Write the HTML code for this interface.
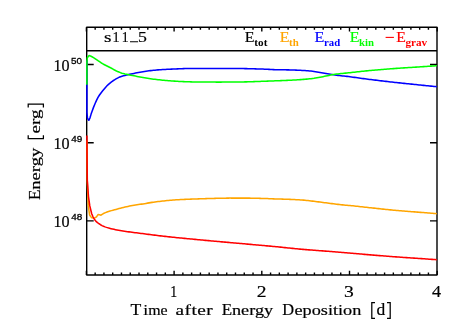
<!DOCTYPE html>
<html><head><meta charset="utf-8"><title>plot</title>
<style>html,body{margin:0;padding:0;background:#fff;}body{width:463px;height:331px;overflow:hidden;font-family:"Liberation Serif",serif;}svg{display:block;will-change:transform;}</style>
</head><body>
<svg width="463" height="331" viewBox="0 0 463 331">
<rect width="463" height="331" fill="#fff"/>
<g fill="none" stroke="#000" stroke-width="1.40" stroke-linecap="butt">
<rect x="86.7" y="27.3" width="350.3" height="247.7" stroke-linejoin="round"/>
<path d="M86.40 275.0v-4.20M86.40 27.3v4.20M95.17 275.0v-2.45M95.17 27.3v2.45M103.94 275.0v-2.45M103.94 27.3v2.45M112.71 275.0v-2.45M112.71 27.3v2.45M121.48 275.0v-2.45M121.48 27.3v2.45M130.25 275.0v-2.45M130.25 27.3v2.45M139.02 275.0v-2.45M139.02 27.3v2.45M147.79 275.0v-2.45M147.79 27.3v2.45M156.56 275.0v-2.45M156.56 27.3v2.45M165.33 275.0v-2.45M165.33 27.3v2.45M174.10 275.0v-4.20M174.10 27.3v4.20M182.87 275.0v-2.45M182.87 27.3v2.45M191.64 275.0v-2.45M191.64 27.3v2.45M200.41 275.0v-2.45M200.41 27.3v2.45M209.18 275.0v-2.45M209.18 27.3v2.45M217.95 275.0v-2.45M217.95 27.3v2.45M226.72 275.0v-2.45M226.72 27.3v2.45M235.49 275.0v-2.45M235.49 27.3v2.45M244.26 275.0v-2.45M244.26 27.3v2.45M253.03 275.0v-2.45M253.03 27.3v2.45M261.80 275.0v-4.20M261.80 27.3v4.20M270.57 275.0v-2.45M270.57 27.3v2.45M279.34 275.0v-2.45M279.34 27.3v2.45M288.11 275.0v-2.45M288.11 27.3v2.45M296.88 275.0v-2.45M296.88 27.3v2.45M305.65 275.0v-2.45M305.65 27.3v2.45M314.42 275.0v-2.45M314.42 27.3v2.45M323.19 275.0v-2.45M323.19 27.3v2.45M331.96 275.0v-2.45M331.96 27.3v2.45M340.73 275.0v-2.45M340.73 27.3v2.45M349.50 275.0v-4.20M349.50 27.3v4.20M358.27 275.0v-2.45M358.27 27.3v2.45M367.04 275.0v-2.45M367.04 27.3v2.45M375.81 275.0v-2.45M375.81 27.3v2.45M384.58 275.0v-2.45M384.58 27.3v2.45M393.35 275.0v-2.45M393.35 27.3v2.45M402.12 275.0v-2.45M402.12 27.3v2.45M410.89 275.0v-2.45M410.89 27.3v2.45M419.66 275.0v-2.45M419.66 27.3v2.45M428.43 275.0v-2.45M428.43 27.3v2.45M437.20 275.0v-4.20M437.20 27.3v4.20M86.7 64.50h7.0M437.0 64.50h-7.0M86.7 142.70h7.0M437.0 142.70h-7.0M86.7 220.90h7.0M437.0 220.90h-7.0"/>
</g>
<g fill="none" stroke-width="1.55" stroke-linejoin="round" stroke-linecap="butt">
<path d="M86.7 50.78H437.0" stroke="#000"/>
<path d="M86.9 140.30 L87.2 180.30 L88.3 205.90 L89.6 215.00 L91.5 217.60 L92.0 217.82 L93.5 218.10 L95.0 217.79 L96.5 216.94 L98.0 214.62 L99.5 214.71 L101.0 215.17 L102.5 214.08 L104.0 213.31 L105.5 212.65 L107.0 212.06 L108.5 211.53 L110.0 211.05 L111.5 210.62 L113.0 210.21 L114.5 209.80 L116.0 209.39 L117.5 209.00 L119.0 208.61 L120.5 208.23 L122.0 207.85 L123.5 207.46 L125.0 207.09 L126.5 206.73 L128.0 206.39 L129.5 206.07 L131.0 205.76 L132.5 205.47 L134.0 205.20 L135.5 204.96 L137.0 204.75 L138.5 204.55 L140.0 204.35 L141.5 204.13 L143.0 203.90 L144.5 203.65 L146.0 203.39 L147.5 203.13 L149.0 202.87 L150.5 202.63 L152.0 202.39 L153.5 202.18 L155.0 201.98 L156.5 201.78 L158.0 201.59 L159.5 201.41 L161.0 201.23 L162.5 201.06 L164.0 200.90 L165.5 200.75 L167.0 200.60 L168.5 200.46 L170.0 200.33 L171.5 200.19 L173.0 200.07 L174.5 199.95 L176.0 199.84 L177.5 199.74 L179.0 199.65 L180.5 199.57 L182.0 199.50 L183.5 199.43 L185.0 199.37 L186.5 199.31 L188.0 199.25 L189.5 199.19 L191.0 199.14 L192.5 199.08 L194.0 199.02 L195.5 198.97 L197.0 198.92 L198.5 198.86 L200.0 198.81 L201.5 198.76 L203.0 198.71 L204.5 198.67 L206.0 198.62 L207.5 198.57 L209.0 198.53 L210.5 198.49 L212.0 198.44 L213.5 198.40 L215.0 198.37 L216.5 198.33 L218.0 198.30 L219.5 198.27 L221.0 198.24 L222.5 198.21 L224.0 198.18 L225.5 198.15 L227.0 198.13 L228.5 198.11 L230.0 198.10 L231.5 198.10 L233.0 198.10 L234.5 198.10 L236.0 198.10 L237.5 198.10 L239.0 198.10 L240.5 198.10 L242.0 198.10 L243.5 198.10 L245.0 198.10 L246.5 198.11 L248.0 198.12 L249.5 198.14 L251.0 198.17 L252.5 198.19 L254.0 198.23 L255.5 198.26 L257.0 198.30 L258.5 198.33 L260.0 198.37 L261.5 198.41 L263.0 198.45 L264.5 198.49 L266.0 198.54 L267.5 198.60 L269.0 198.66 L270.5 198.73 L272.0 198.79 L273.5 198.86 L275.0 198.91 L276.5 198.97 L278.0 199.01 L279.5 199.06 L281.0 199.10 L282.5 199.14 L284.0 199.19 L285.5 199.23 L287.0 199.28 L288.5 199.33 L290.0 199.39 L291.5 199.45 L293.0 199.51 L294.5 199.58 L296.0 199.65 L297.5 199.73 L299.0 199.81 L300.5 199.90 L302.0 200.00 L303.5 200.12 L305.0 200.26 L306.5 200.42 L308.0 200.59 L309.5 200.77 L311.0 200.95 L312.5 201.12 L314.0 201.30 L315.5 201.48 L317.0 201.67 L318.5 201.87 L320.0 202.06 L321.5 202.26 L323.0 202.46 L324.5 202.65 L326.0 202.85 L327.5 203.04 L329.0 203.23 L330.5 203.42 L332.0 203.61 L333.5 203.80 L335.0 203.99 L336.5 204.18 L338.0 204.36 L339.5 204.53 L341.0 204.70 L342.5 204.86 L344.0 205.01 L345.5 205.15 L347.0 205.29 L348.5 205.43 L350.0 205.56 L351.5 205.70 L353.0 205.85 L354.5 206.00 L356.0 206.16 L357.5 206.32 L359.0 206.48 L360.5 206.65 L362.0 206.82 L363.5 206.99 L365.0 207.16 L366.5 207.32 L368.0 207.49 L369.5 207.65 L371.0 207.81 L372.5 207.97 L374.0 208.14 L375.5 208.30 L377.0 208.46 L378.5 208.62 L380.0 208.79 L381.5 208.95 L383.0 209.11 L384.5 209.26 L386.0 209.42 L387.5 209.57 L389.0 209.73 L390.5 209.87 L392.0 210.02 L393.5 210.16 L395.0 210.30 L396.5 210.43 L398.0 210.57 L399.5 210.69 L401.0 210.82 L402.5 210.94 L404.0 211.06 L405.5 211.18 L407.0 211.30 L408.5 211.42 L410.0 211.54 L411.5 211.65 L413.0 211.77 L414.5 211.88 L416.0 212.00 L417.5 212.12 L419.0 212.24 L420.5 212.36 L422.0 212.48 L423.5 212.60 L425.0 212.73 L426.5 212.85 L428.0 212.97 L429.5 213.10 L431.0 213.22 L432.5 213.34 L434.0 213.47 L435.5 213.59 L436.8 213.70" stroke="#ffa500"/>
<path d="M86.9 60.30 L86.9 112.30 L87.5 118.30 L88.8 120.30 L90.0 117.80 L91.1 114.10 L92.0 111.46 L93.5 107.37 L95.0 103.70 L96.5 100.40 L98.0 97.44 L99.5 94.98 L101.0 92.93 L102.5 91.07 L104.0 89.23 L105.5 87.43 L107.0 85.78 L108.5 84.34 L110.0 83.05 L111.5 81.86 L113.0 80.77 L114.5 79.80 L116.0 78.90 L117.5 78.07 L119.0 77.32 L120.5 76.68 L122.0 76.18 L123.5 75.75 L125.0 75.38 L126.5 75.03 L128.0 74.68 L129.5 74.34 L131.0 74.02 L132.5 73.70 L134.0 73.40 L135.5 73.11 L137.0 72.83 L138.5 72.56 L140.0 72.30 L141.5 72.04 L143.0 71.77 L144.5 71.49 L146.0 71.22 L147.5 70.99 L149.0 70.79 L150.5 70.61 L152.0 70.45 L153.5 70.29 L155.0 70.15 L156.5 70.01 L158.0 69.89 L159.5 69.77 L161.0 69.67 L162.5 69.57 L164.0 69.48 L165.5 69.41 L167.0 69.34 L168.5 69.27 L170.0 69.20 L171.5 69.13 L173.0 69.06 L174.5 68.99 L176.0 68.92 L177.5 68.86 L179.0 68.80 L180.5 68.74 L182.0 68.68 L183.5 68.62 L185.0 68.56 L186.5 68.50 L188.0 68.46 L189.5 68.42 L191.0 68.40 L192.5 68.40 L194.0 68.40 L195.5 68.40 L197.0 68.40 L198.5 68.40 L200.0 68.40 L201.5 68.40 L203.0 68.40 L204.5 68.40 L206.0 68.40 L207.5 68.40 L209.0 68.40 L210.5 68.40 L212.0 68.40 L213.5 68.40 L215.0 68.40 L216.5 68.40 L218.0 68.40 L219.5 68.40 L221.0 68.40 L222.5 68.41 L224.0 68.41 L225.5 68.42 L227.0 68.43 L228.5 68.44 L230.0 68.45 L231.5 68.46 L233.0 68.48 L234.5 68.49 L236.0 68.51 L237.5 68.52 L239.0 68.54 L240.5 68.56 L242.0 68.58 L243.5 68.59 L245.0 68.61 L246.5 68.64 L248.0 68.67 L249.5 68.70 L251.0 68.73 L252.5 68.77 L254.0 68.81 L255.5 68.86 L257.0 68.90 L258.5 68.95 L260.0 69.00 L261.5 69.05 L263.0 69.10 L264.5 69.16 L266.0 69.23 L267.5 69.31 L269.0 69.39 L270.5 69.47 L272.0 69.55 L273.5 69.62 L275.0 69.67 L276.5 69.71 L278.0 69.74 L279.5 69.76 L281.0 69.78 L282.5 69.80 L284.0 69.82 L285.5 69.84 L287.0 69.86 L288.5 69.89 L290.0 69.92 L291.5 69.96 L293.0 70.01 L294.5 70.06 L296.0 70.12 L297.5 70.18 L299.0 70.25 L300.5 70.32 L302.0 70.40 L303.5 70.48 L305.0 70.58 L306.5 70.68 L308.0 70.80 L309.5 70.92 L311.0 71.07 L312.5 71.22 L314.0 71.42 L315.5 71.66 L317.0 71.93 L318.5 72.22 L320.0 72.51 L321.5 72.79 L323.0 73.05 L324.5 73.30 L326.0 73.56 L327.5 73.82 L329.0 74.07 L330.5 74.32 L332.0 74.56 L333.5 74.79 L335.0 75.00 L336.5 75.21 L338.0 75.39 L339.5 75.57 L341.0 75.73 L342.5 75.90 L344.0 76.06 L345.5 76.22 L347.0 76.39 L348.5 76.58 L350.0 76.77 L351.5 76.97 L353.0 77.17 L354.5 77.38 L356.0 77.59 L357.5 77.80 L359.0 78.00 L360.5 78.20 L362.0 78.41 L363.5 78.61 L365.0 78.81 L366.5 79.01 L368.0 79.21 L369.5 79.40 L371.0 79.59 L372.5 79.77 L374.0 79.96 L375.5 80.14 L377.0 80.33 L378.5 80.51 L380.0 80.68 L381.5 80.86 L383.0 81.04 L384.5 81.21 L386.0 81.39 L387.5 81.56 L389.0 81.73 L390.5 81.90 L392.0 82.07 L393.5 82.23 L395.0 82.40 L396.5 82.56 L398.0 82.73 L399.5 82.89 L401.0 83.05 L402.5 83.21 L404.0 83.36 L405.5 83.52 L407.0 83.67 L408.5 83.83 L410.0 83.98 L411.5 84.13 L413.0 84.29 L414.5 84.44 L416.0 84.59 L417.5 84.74 L419.0 84.90 L420.5 85.05 L422.0 85.20 L423.5 85.36 L425.0 85.51 L426.5 85.66 L428.0 85.81 L429.5 85.96 L431.0 86.12 L432.5 86.27 L434.0 86.42 L435.5 86.57 L436.8 86.70" stroke="#0000ff"/>
<path d="M86.9 84.80 L86.9 62.30 L87.3 57.80 L89.1 55.60 L91.0 56.20 L92.0 56.75 L93.5 57.62 L95.0 58.56 L96.5 59.61 L98.0 60.70 L99.5 61.73 L101.0 62.72 L102.5 63.64 L104.0 64.47 L105.5 65.27 L107.0 66.05 L108.5 66.80 L110.0 67.52 L111.5 68.24 L113.0 69.08 L114.5 70.00 L116.0 70.76 L117.5 71.44 L119.0 72.08 L120.5 72.65 L122.0 73.15 L123.5 73.57 L125.0 73.94 L126.5 74.26 L128.0 74.59 L129.5 74.90 L131.0 75.21 L132.5 75.50 L134.0 75.80 L135.5 76.10 L137.0 76.40 L138.5 76.69 L140.0 76.98 L141.5 77.26 L143.0 77.54 L144.5 77.82 L146.0 78.10 L147.5 78.35 L149.0 78.57 L150.5 78.78 L152.0 78.98 L153.5 79.17 L155.0 79.35 L156.5 79.52 L158.0 79.69 L159.5 79.85 L161.0 80.00 L162.5 80.15 L164.0 80.29 L165.5 80.43 L167.0 80.56 L168.5 80.68 L170.0 80.80 L171.5 80.91 L173.0 81.02 L174.5 81.13 L176.0 81.23 L177.5 81.32 L179.0 81.40 L180.5 81.47 L182.0 81.55 L183.5 81.62 L185.0 81.69 L186.5 81.75 L188.0 81.80 L189.5 81.85 L191.0 81.88 L192.5 81.91 L194.0 81.93 L195.5 81.95 L197.0 81.96 L198.5 81.98 L200.0 82.00 L201.5 82.01 L203.0 82.03 L204.5 82.04 L206.0 82.05 L207.5 82.06 L209.0 82.07 L210.5 82.08 L212.0 82.09 L213.5 82.09 L215.0 82.10 L216.5 82.10 L218.0 82.10 L219.5 82.10 L221.0 82.10 L222.5 82.09 L224.0 82.09 L225.5 82.08 L227.0 82.07 L228.5 82.06 L230.0 82.05 L231.5 82.04 L233.0 82.02 L234.5 82.01 L236.0 81.99 L237.5 81.98 L239.0 81.96 L240.5 81.94 L242.0 81.93 L243.5 81.91 L245.0 81.89 L246.5 81.86 L248.0 81.82 L249.5 81.78 L251.0 81.74 L252.5 81.69 L254.0 81.63 L255.5 81.58 L257.0 81.52 L258.5 81.47 L260.0 81.41 L261.5 81.35 L263.0 81.30 L264.5 81.25 L266.0 81.19 L267.5 81.13 L269.0 81.08 L270.5 81.02 L272.0 80.96 L273.5 80.90 L275.0 80.84 L276.5 80.78 L278.0 80.73 L279.5 80.67 L281.0 80.62 L282.5 80.56 L284.0 80.51 L285.5 80.45 L287.0 80.39 L288.5 80.32 L290.0 80.25 L291.5 80.17 L293.0 80.09 L294.5 80.01 L296.0 79.92 L297.5 79.82 L299.0 79.72 L300.5 79.61 L302.0 79.50 L303.5 79.38 L305.0 79.26 L306.5 79.12 L308.0 78.98 L309.5 78.82 L311.0 78.66 L312.5 78.47 L314.0 78.27 L315.5 78.03 L317.0 77.77 L318.5 77.49 L320.0 77.21 L321.5 76.92 L323.0 76.64 L324.5 76.36 L326.0 76.05 L327.5 75.74 L329.0 75.42 L330.5 75.11 L332.0 74.82 L333.5 74.54 L335.0 74.30 L336.5 74.09 L338.0 73.91 L339.5 73.73 L341.0 73.58 L342.5 73.42 L344.0 73.28 L345.5 73.13 L347.0 72.98 L348.5 72.82 L350.0 72.66 L351.5 72.49 L353.0 72.32 L354.5 72.15 L356.0 71.98 L357.5 71.81 L359.0 71.65 L360.5 71.49 L362.0 71.34 L363.5 71.18 L365.0 71.03 L366.5 70.88 L368.0 70.74 L369.5 70.60 L371.0 70.46 L372.5 70.33 L374.0 70.20 L375.5 70.06 L377.0 69.93 L378.5 69.80 L380.0 69.68 L381.5 69.55 L383.0 69.43 L384.5 69.31 L386.0 69.19 L387.5 69.07 L389.0 68.95 L390.5 68.84 L392.0 68.72 L393.5 68.61 L395.0 68.50 L396.5 68.39 L398.0 68.29 L399.5 68.18 L401.0 68.08 L402.5 67.98 L404.0 67.89 L405.5 67.79 L407.0 67.70 L408.5 67.60 L410.0 67.51 L411.5 67.41 L413.0 67.32 L414.5 67.22 L416.0 67.13 L417.5 67.03 L419.0 66.93 L420.5 66.83 L422.0 66.73 L423.5 66.63 L425.0 66.53 L426.5 66.42 L428.0 66.32 L429.5 66.22 L431.0 66.11 L432.5 66.00 L434.0 65.90 L435.5 65.79 L436.8 65.70" stroke="#00ff00"/>
<path d="M86.9 135.60 L87.3 180.30 L88.5 196.80 L89.8 205.90 L91.7 213.70 L93.0 216.75 L94.5 219.50 L96.0 221.30 L97.5 222.60 L99.0 223.75 L100.5 224.72 L102.0 225.60 L103.5 226.30 L105.0 226.88 L106.5 227.38 L108.0 227.83 L109.5 228.24 L111.0 228.63 L112.5 229.00 L114.0 229.34 L115.5 229.66 L117.0 229.96 L118.5 230.24 L120.0 230.51 L121.5 230.76 L123.0 230.99 L124.5 231.23 L126.0 231.45 L127.5 231.67 L129.0 231.87 L130.5 232.08 L132.0 232.28 L133.5 232.48 L135.0 232.67 L136.5 232.85 L138.0 233.04 L139.5 233.23 L141.0 233.41 L142.5 233.60 L144.0 233.79 L145.5 233.98 L147.0 234.17 L148.5 234.36 L150.0 234.55 L151.5 234.74 L153.0 234.92 L154.5 235.11 L156.0 235.30 L157.5 235.49 L159.0 235.67 L160.5 235.86 L162.0 236.04 L163.5 236.22 L165.0 236.39 L166.5 236.56 L168.0 236.72 L169.5 236.88 L171.0 237.04 L172.5 237.19 L174.0 237.35 L175.5 237.50 L177.0 237.65 L178.5 237.80 L180.0 237.95 L181.5 238.09 L183.0 238.24 L184.5 238.38 L186.0 238.53 L187.5 238.67 L189.0 238.81 L190.5 238.96 L192.0 239.10 L193.5 239.24 L195.0 239.39 L196.5 239.53 L198.0 239.67 L199.5 239.81 L201.0 239.95 L202.5 240.09 L204.0 240.23 L205.5 240.36 L207.0 240.50 L208.5 240.64 L210.0 240.78 L211.5 240.91 L213.0 241.05 L214.5 241.18 L216.0 241.32 L217.5 241.45 L219.0 241.59 L220.5 241.72 L222.0 241.86 L223.5 241.99 L225.0 242.12 L226.5 242.26 L228.0 242.39 L229.5 242.52 L231.0 242.65 L232.5 242.78 L234.0 242.92 L235.5 243.05 L237.0 243.18 L238.5 243.31 L240.0 243.44 L241.5 243.58 L243.0 243.71 L244.5 243.84 L246.0 243.98 L247.5 244.11 L249.0 244.25 L250.5 244.38 L252.0 244.51 L253.5 244.65 L255.0 244.78 L256.5 244.91 L258.0 245.05 L259.5 245.18 L261.0 245.32 L262.5 245.45 L264.0 245.59 L265.5 245.72 L267.0 245.86 L268.5 246.00 L270.0 246.14 L271.5 246.28 L273.0 246.42 L274.5 246.56 L276.0 246.70 L277.5 246.84 L279.0 246.99 L280.5 247.14 L282.0 247.30 L283.5 247.45 L285.0 247.61 L286.5 247.77 L288.0 247.92 L289.5 248.08 L291.0 248.23 L292.5 248.39 L294.0 248.54 L295.5 248.69 L297.0 248.84 L298.5 248.98 L300.0 249.12 L301.5 249.26 L303.0 249.39 L304.5 249.51 L306.0 249.64 L307.5 249.76 L309.0 249.87 L310.5 249.99 L312.0 250.10 L313.5 250.22 L315.0 250.33 L316.5 250.44 L318.0 250.55 L319.5 250.66 L321.0 250.77 L322.5 250.88 L324.0 250.99 L325.5 251.11 L327.0 251.22 L328.5 251.34 L330.0 251.46 L331.5 251.58 L333.0 251.69 L334.5 251.81 L336.0 251.93 L337.5 252.05 L339.0 252.17 L340.5 252.29 L342.0 252.41 L343.5 252.53 L345.0 252.65 L346.5 252.77 L348.0 252.90 L349.5 253.02 L351.0 253.15 L352.5 253.27 L354.0 253.40 L355.5 253.53 L357.0 253.66 L358.5 253.80 L360.0 253.94 L361.5 254.08 L363.0 254.22 L364.5 254.36 L366.0 254.49 L367.5 254.63 L369.0 254.76 L370.5 254.88 L372.0 255.01 L373.5 255.13 L375.0 255.26 L376.5 255.38 L378.0 255.50 L379.5 255.62 L381.0 255.74 L382.5 255.85 L384.0 255.97 L385.5 256.09 L387.0 256.20 L388.5 256.32 L390.0 256.43 L391.5 256.54 L393.0 256.65 L394.5 256.76 L396.0 256.87 L397.5 256.98 L399.0 257.09 L400.5 257.20 L402.0 257.30 L403.5 257.40 L405.0 257.51 L406.5 257.61 L408.0 257.71 L409.5 257.82 L411.0 257.92 L412.5 258.02 L414.0 258.12 L415.5 258.22 L417.0 258.32 L418.5 258.43 L420.0 258.53 L421.5 258.63 L423.0 258.74 L424.5 258.84 L426.0 258.95 L427.5 259.05 L429.0 259.16 L430.5 259.26 L432.0 259.37 L433.5 259.47 L435.0 259.57 L436.5 259.68 L436.8 259.70" stroke="#ff0000"/>
</g>
<g font-family="'Liberation Serif', serif" fill="#000">
<text transform="translate(104.10 42.30) scale(1.2632 1)" font-size="15.2" stroke="#000" stroke-width="0.18">s</text>
<text transform="translate(112.50 42.30) scale(0.9298 1)" font-size="15.2" stroke="#000" stroke-width="0.18">1</text>
<text transform="translate(121.84 42.30) scale(0.8947 1)" font-size="15.2" stroke="#000" stroke-width="0.18">1</text>
<text transform="translate(137.97 42.30) scale(1.1696 1)" font-size="15.2" stroke="#000" stroke-width="0.18">5</text>
<text transform="translate(244.65 42.30) scale(1.0398 1)" font-size="15.3" stroke="#000" stroke-width="0.18">E</text>
<text transform="translate(254.33 45.70) scale(1.0562 1)" font-size="10.6" font-weight="bold">tot</text>
<text transform="translate(279.65 42.30) scale(1.0398 1)" font-size="15.3" fill="#ffa500" stroke="#ffa500" stroke-width="0.18">E</text>
<text transform="translate(289.03 45.70) scale(1.0261 1)" font-size="10.6" font-weight="bold" fill="#ffa500">th</text>
<text transform="translate(314.55 42.30) scale(1.0517 1)" font-size="15.3" fill="#0000ff" stroke="#0000ff" stroke-width="0.18">E</text>
<text transform="translate(324.03 45.70) scale(1.0169 1)" font-size="10.6" font-weight="bold" fill="#0000ff">rad</text>
<text transform="translate(349.75 42.30) scale(1.0398 1)" font-size="15.3" fill="#00ff00" stroke="#00ff00" stroke-width="0.18">E</text>
<text transform="translate(358.93 45.70) scale(1.0158 1)" font-size="10.6" font-weight="bold" fill="#00ff00">kin</text>
<text transform="translate(396.35 42.30) scale(1.0278 1)" font-size="15.3" fill="#ff0000" stroke="#ff0000" stroke-width="0.18">E</text>
<text transform="translate(405.53 45.70) scale(1.0519 1)" font-size="10.6" font-weight="bold" fill="#ff0000">grav</text>
<text transform="translate(53.49 70.70) scale(1.0070 1)" font-size="16.0" stroke="#000" stroke-width="0.18">10</text>
<text transform="translate(71.09 63.70) scale(1.0356 1)" font-size="9.6" font-family="'Liberation Sans', sans-serif" stroke="#000" stroke-width="0.3">50</text>
<text transform="translate(53.49 148.90) scale(1.0070 1)" font-size="16.0" stroke="#000" stroke-width="0.18">10</text>
<text transform="translate(71.24 141.90) scale(1.0356 1)" font-size="9.6" font-family="'Liberation Sans', sans-serif" stroke="#000" stroke-width="0.3">49</text>
<text transform="translate(53.49 227.10) scale(1.0070 1)" font-size="16.0" stroke="#000" stroke-width="0.18">10</text>
<text transform="translate(71.24 220.10) scale(1.0356 1)" font-size="9.6" font-family="'Liberation Sans', sans-serif" stroke="#000" stroke-width="0.3">48</text>
<text transform="translate(170.22 296.85) scale(0.8667 1)" font-size="16.0" stroke="#000" stroke-width="0.18">1</text>
<text transform="translate(256.69 296.85) scale(1.2222 1)" font-size="16.0" stroke="#000" stroke-width="0.18">2</text>
<text transform="translate(343.98 296.85) scale(1.2222 1)" font-size="16.0" stroke="#000" stroke-width="0.18">3</text>
<text transform="translate(431.92 296.85) scale(1.1333 1)" font-size="16.0" stroke="#000" stroke-width="0.18">4</text>
<text transform="translate(130.62 315.00) scale(1.1193 1)" font-size="15.8" stroke="#000" stroke-width="0.18">T</text>
<text transform="translate(143.32 315.00) scale(1.2055 1)" font-size="14.6" stroke="#000" stroke-width="0.18">i</text>
<text transform="translate(148.15 315.00) scale(1.0904 1)" font-size="14.6" stroke="#000" stroke-width="0.18">me</text>
<text transform="translate(175.60 315.00) scale(1.3200 1)" font-size="14.6" letter-spacing="0.322" stroke="#000" stroke-width="0.18">after</text>
<text transform="translate(221.63 315.00) scale(1.0763 1)" font-size="15.8" stroke="#000" stroke-width="0.18">E</text>
<text transform="translate(231.97 315.00) scale(1.2473 1)" font-size="14.6" stroke="#000" stroke-width="0.18">nergy</text>
<text transform="translate(282.24 315.00) scale(1.0362 1)" font-size="15.8" stroke="#000" stroke-width="0.18">D</text>
<text transform="translate(294.53 315.00) scale(1.2492 1)" font-size="14.6" stroke="#000" stroke-width="0.18">eposition</text>
<text transform="translate(376.55 315.00) scale(1.1072 1)" font-size="15.8" stroke="#000" stroke-width="0.18">d</text>
<text transform="translate(40.40 199.97) rotate(-90) scale(1.0763 1)" font-size="15.8" stroke="#000" stroke-width="0.18">E</text>
<text transform="translate(40.40 189.69) rotate(-90) scale(1.2702 1)" font-size="14.6" stroke="#000" stroke-width="0.18">nergy</text>
<text transform="translate(40.40 133.39) rotate(-90) scale(1.2999 1)" font-size="14.6" stroke="#000" stroke-width="0.18">erg</text>
</g>
<path d="M130.0 41.75H138.1" stroke="#000" stroke-width="1.0" fill="none"/>
<path d="M385.6 37.4H393.9" stroke="#ff0000" stroke-width="1.1" fill="none"/>
<path d="M375.0 302.6H371.8V318.4H375.0M387.0 302.6H390.2V318.4H387.0M28.2 135.3V138.6H43.4V135.3M28.2 107.5V104.2H43.4V107.5" stroke="#000" stroke-width="1.25" fill="none" stroke-linejoin="miter"/>
</svg>
</body></html>
